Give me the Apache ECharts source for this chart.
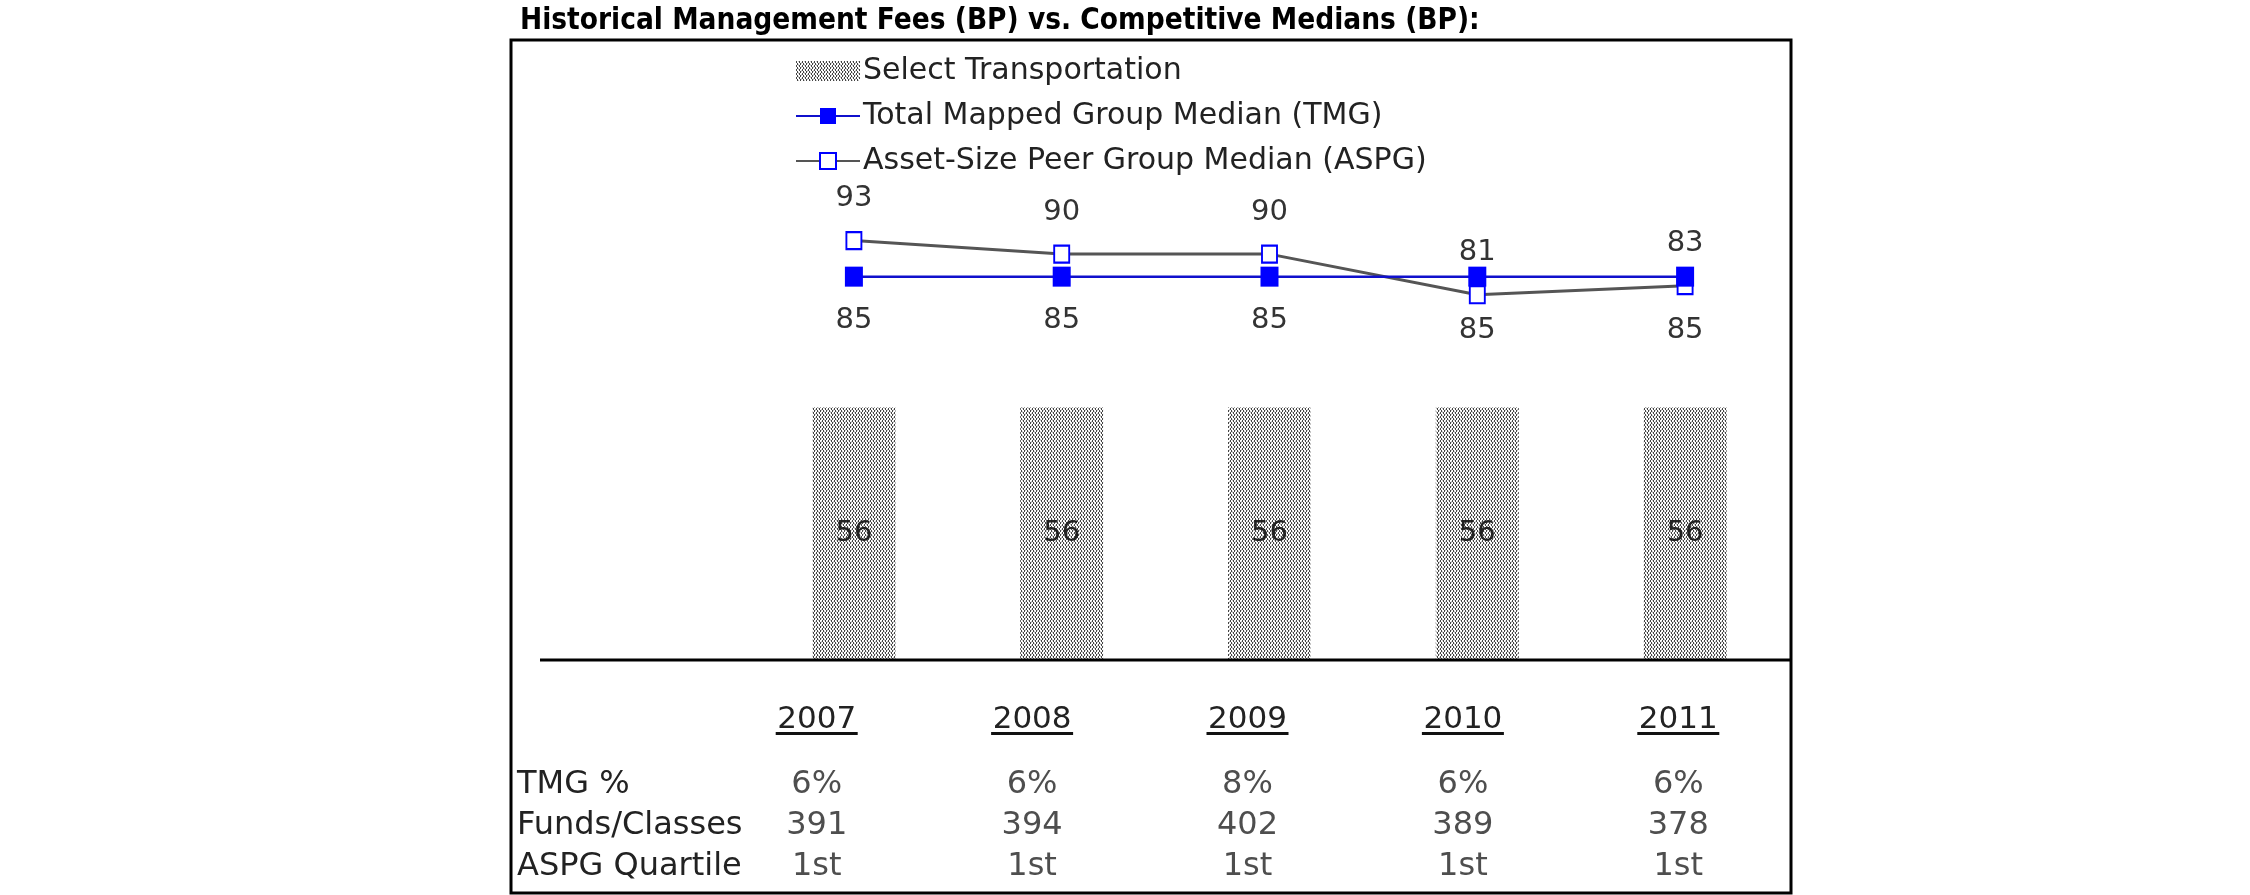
<!DOCTYPE html>
<html><head><meta charset="utf-8">
<script src="https://cdn.jsdelivr.net/npm/echarts@6/dist/echarts.min.js"></script>
<style>html,body{margin:0;padding:0;background:#fff}#c{width:2250px;height:895px}</style>
</head><body><div id="c"></div>
<script>
// ---------- data ----------
const titleText = 'Historical Management Fees (BP) vs. Competitive Medians (BP):';
const years = ['2007', '2008', '2009', '2010', '2011'];
const seriesNames = ['Select Transportation', 'Total Mapped Group Median (TMG)', 'Asset-Size Peer Group Median (ASPG)'];
const selectTransportation = [56, 56, 56, 56, 56];
const tmgMedian = [85, 85, 85, 85, 85];
const aspgMedian = [93, 90, 90, 81, 83];
const rowLabels = ['TMG %', 'Funds/Classes', 'ASPG Quartile'];
const tmgPct = ['6%', '6%', '8%', '6%', '6%'];
const fundsClasses = ['391', '394', '402', '389', '378'];
const aspgQuartile = ['1st', '1st', '1st', '1st', '1st'];

// ---------- layout / style ----------
const FONT = 'DejaVu Sans';
const TITLE_FONT = "'DejaVu Sans Condensed', 'Liberation Sans', sans-serif";
const G1 = { left: 750, top: 209, width: 1039, height: 451 };
const G2 = { left: 709, top: 764, width: 1077, height: 123 };
const AXIS_Y = G1.top + G1.height;
const BOX = { x: 511, y: 40, w: 1280, h: 853 };

// stipple pattern for the bars
function makePattern() {
  const cv = document.createElement('canvas');
  cv.width = 6; cv.height = 4;
  const ctx = cv.getContext('2d');
  ctx.fillStyle = '#ffffff'; ctx.fillRect(0, 0, 6, 4);
  const dark = [[0,0],[0,1],[3,0],[3,1],[1,2],[1,3],[4,2],[4,3]];
  ctx.fillStyle = '#444444';
  dark.forEach(p => ctx.fillRect(p[0], p[1], 1, 1));
  ctx.fillStyle = '#c4c4c4';
  [[2,0],[5,2],[2,3],[5,1]].forEach(p => ctx.fillRect(p[0], p[1], 1, 1));
  return { image: cv, repeat: 'repeat' };
}
const pattern = makePattern();

const tableRows = [tmgPct, fundsClasses, aspgQuartile];
const tableData = [];
tableRows.forEach((row, r) => row.forEach((txt, i) => tableData.push({ value: [i, r], txt: txt })));

const tmgData = tmgMedian.map((v, i) => aspgMedian[i] < v ? { value: v, label: { distance: 29 } } : v);

const chart = echarts.init(document.getElementById('c'), null, { renderer: 'canvas' });
chart.setOption({
  animation: false,
  backgroundColor: '#fff',
  textStyle: { fontFamily: FONT },
  title: {
    text: titleText, left: 515, top: 1,
    textStyle: { fontFamily: TITLE_FONT, fontSize: 29.5, fontWeight: 'bold', color: '#000' }
  },
  legend: {
    orient: 'vertical', left: 795, top: 56, padding: 0,
    itemWidth: 64, itemHeight: 20, itemGap: 15,
    textStyle: { fontFamily: FONT, fontSize: 30, color: '#222', padding: [0, 0, 0, -2] },
    data: [
      { name: seriesNames[0], icon: 'rect' },
      { name: seriesNames[1] },
      { name: seriesNames[2] }
    ]
  },
  grid: [
    { left: G1.left, top: G1.top, width: G1.width, height: G1.height },
    { left: G2.left, top: G2.top, width: G2.width, height: G2.height }
  ],
  xAxis: [
    { type: 'category', gridIndex: 0, data: years, show: false },
    {
      type: 'category', gridIndex: 1, data: years, position: 'top',
      axisLine: { show: false }, axisTick: { show: false },
      axisLabel: {
        margin: 29, interval: 0, hideOverlap: false,
        formatter: v => '{y|' + v + '}\n{u|}',
        rich: {
          y: { fontFamily: FONT, fontSize: 31, lineHeight: 24, color: '#222' },
          u: { width: 82, height: 3, backgroundColor: '#111' }
        }
      }
    }
  ],
  yAxis: [
    { type: 'value', gridIndex: 0, min: 0, max: 100, show: false },
    {
      type: 'category', gridIndex: 1, data: rowLabels, inverse: true,
      axisLine: { show: false }, axisTick: { show: false }, splitLine: { show: false },
      axisLabel: { interval: 0, hideOverlap: false, align: 'left', margin: G2.left - 517, fontFamily: FONT, fontSize: 32, color: '#222' }
    }
  ],
  graphic: [
    { type: 'rect', z: -1, shape: { x: BOX.x, y: BOX.y, width: BOX.w, height: BOX.h },
      style: { fill: 'none', stroke: '#000', lineWidth: 3 } },
    { type: 'line', z: 10, shape: { x1: 540, y1: AXIS_Y, x2: BOX.x + BOX.w, y2: AXIS_Y },
      style: { stroke: '#000', lineWidth: 3 } }
  ],
  series: [
    {
      name: seriesNames[0], type: 'bar', xAxisIndex: 0, yAxisIndex: 0,
      data: selectTransportation, barWidth: 83,
      itemStyle: { color: pattern },
      label: { show: true, position: 'inside', fontFamily: FONT, fontSize: 29, color: '#222' },
      z: 2
    },
    {
      name: seriesNames[2], type: 'line', xAxisIndex: 0, yAxisIndex: 0,
      data: aspgMedian, symbol: 'rect', symbolSize: [15, 17],
      itemStyle: { color: '#fff', borderColor: '#0000ff', borderWidth: 2 },
      lineStyle: { color: '#555', width: 3 },
      label: { show: true, position: 'top', distance: 18, fontFamily: FONT, fontSize: 29, color: '#333' },
      z: 3
    },
    {
      name: seriesNames[1], type: 'line', xAxisIndex: 0, yAxisIndex: 0,
      data: tmgData, symbol: 'rect', symbolSize: [18, 20],
      itemStyle: { color: '#0000ff' },
      lineStyle: { color: '#1010cc', width: 2.5 },
      label: { show: true, position: 'bottom', distance: 19, fontFamily: FONT, fontSize: 29, color: '#333' },
      z: 4
    },
    {
      name: 'table', type: 'scatter', xAxisIndex: 1, yAxisIndex: 1,
      data: tableData, symbolSize: 0, silent: true,
      label: { show: true, position: 'inside', formatter: p => p.data.txt, fontFamily: FONT, fontSize: 32, color: '#222' }
    }
  ]
});
</script></body></html>
